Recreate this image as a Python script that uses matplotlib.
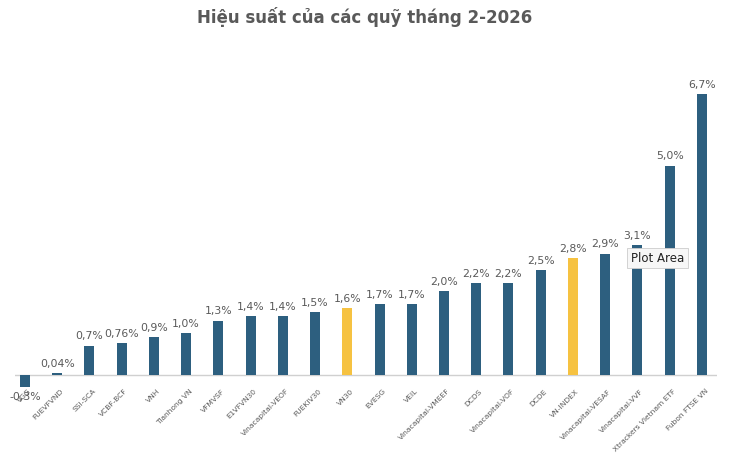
import matplotlib.pyplot as plt
from matplotlib.transforms import ScaledTranslation

funds = ["VGG", "FUEVFVND", "SSI-SCA", "VCBF-BCF", "VNH", "Tianhong VN", "VFMVSF",
         "E1VFVN30", "Vinacapital-VEOF", "FUEKIV30", "VN30", "EVESG", "VEIL",
         "Vinacapital-VMEEF", "DCDS", "Vinacapital-VOF", "DCDE", "VN-INDEX",
         "Vinacapital-VESAF", "Vinacapital-VVF", "Xtrackers Vietnam ETF", "Fubon FTSE VN"]
returns = [-0.3, 0.04, 0.7, 0.76, 0.9, 1.0, 1.3, 1.4, 1.4, 1.5, 1.6, 1.7, 1.7,
           2.0, 2.2, 2.2, 2.5, 2.8, 2.9, 3.1, 5.0, 6.7]
labels = ["-0,3%", "0,04%", "0,7%", "0,76%", "0,9%", "1,0%", "1,3%", "1,4%", "1,4%",
          "1,5%", "1,6%", "1,7%", "1,7%", "2,0%", "2,2%", "2,2%", "2,5%", "2,8%",
          "2,9%", "3,1%", "5,0%", "6,7%"]
highlight = ["VN30", "VN-INDEX"]

blue = "#2D5F7F"
yellow = "#F6C241"
grey = "#595959"

fig = plt.figure(figsize=(7.30, 4.54), dpi=100)
ax = fig.add_axes([15 / 730, 64 / 454, 702 / 730, 350 / 454])

x = list(range(len(funds)))
colors = [yellow if f in highlight else blue for f in funds]
ax.bar(x, returns, width=0.31, color=colors, zorder=2)

for i, (v, lab) in enumerate(zip(returns, labels)):
    if v < 0:
        ax.text(i, v - 0.1, lab, ha="center", va="top", fontsize=7.8, color=grey)
    else:
        ax.text(i, v + 0.1, lab, ha="center", va="bottom", fontsize=7.8, color=grey)

ax.axhline(0, color="#D0D0D0", lw=1, zorder=1)
ax.set_xlim(-0.31, 21.47)
ax.set_ylim(-0.36, 8.0)
ax.set_xticks(x)
ax.set_xticklabels(funds, rotation=45, ha="right", rotation_mode="anchor",
                   fontsize=5.4, color=grey)
ax.tick_params(axis="x", length=0, pad=0)
# nudge labels a little right/up like the original
shift = ScaledTranslation(3 / 100, 2 / 100, fig.dpi_scale_trans)
for t in ax.get_xticklabels():
    t.set_transform(t.get_transform() + shift)
ax.set_yticks([])
for s in ax.spines.values():
    s.set_visible(False)

fig.text(0.5, 1 - 17 / 454, "Hiệu suất của các quỹ tháng 2-2026", ha="center", va="center",
         fontsize=12, fontweight="bold", color=grey)

# excel tooltip
fig.text(631 / 730, 1 - 258 / 454, "Plot Area", ha="left", va="center", fontsize=8.5,
         color="#222222",
         bbox=dict(boxstyle="square,pad=0.3", fc="#F7F7F7", ec="#CCCCCC", lw=0.6))

plt.savefig("out.png", dpi=100)
